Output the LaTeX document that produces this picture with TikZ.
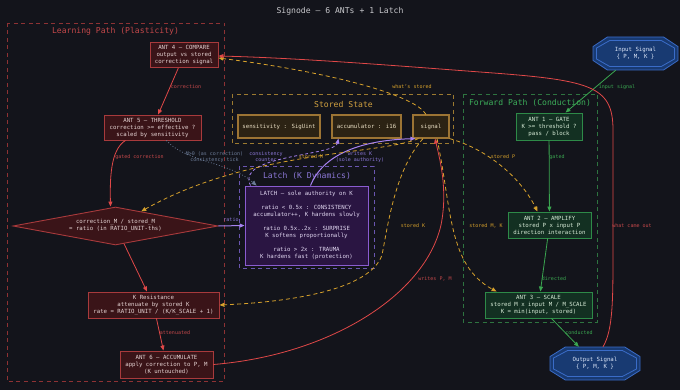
\documentclass[tikz,border=0pt]{standalone}
\usepackage{fontspec}
\setmainfont{DejaVu Sans Mono}
\usetikzlibrary{arrows.meta,shapes.geometric,calc}

\definecolor{bg}{HTML}{13141B}
\definecolor{ttl}{HTML}{C8C8CC}
% learning path (red)
\definecolor{redcl}{HTML}{8E3234}
\definecolor{redlb}{HTML}{C4484A}
\definecolor{redfl}{HTML}{3A1418}
\definecolor{redln}{HTML}{A83A3C}
\definecolor{redtx}{HTML}{E6D4D4}
\definecolor{reded}{HTML}{E04848}
% stored state (yellow)
\definecolor{yelcl}{HTML}{9C7A30}
\definecolor{yellb}{HTML}{D0A040}
\definecolor{yelfl}{HTML}{2C2314}
\definecolor{yelln}{HTML}{9C7434}
\definecolor{yeltx}{HTML}{EADFC4}
\definecolor{yeled}{HTML}{D8A22C}
% forward path (green)
\definecolor{grncl}{HTML}{2E7440}
\definecolor{grnlb}{HTML}{3CAE5A}
\definecolor{grnfl}{HTML}{133022}
\definecolor{grnln}{HTML}{2E8A48}
\definecolor{grntx}{HTML}{D8ECD8}
\definecolor{grned}{HTML}{3AA650}
% latch (purple)
\definecolor{purcl}{HTML}{6A56B0}
\definecolor{purlb}{HTML}{8C78D8}
\definecolor{purfl}{HTML}{2A1542}
\definecolor{purln}{HTML}{8A5CD0}
\definecolor{purtx}{HTML}{E2D8F2}
\definecolor{pured}{HTML}{A682F0}
% signals (blue)
\definecolor{blufl}{HTML}{183A72}
\definecolor{bluln}{HTML}{3A6CC8}
\definecolor{blutx}{HTML}{DCE6F8}
\definecolor{dotcl}{HTML}{6C7C98}

\tikzset{
  box/.style={draw, line width=0.9pt, align=center, inner sep=1pt,
    font=\fontsize{5.7}{7}\selectfont},
  redbox/.style={box, draw=redln, fill=redfl, text=redtx},
  yelbox/.style={box, draw=yelln, fill=yelfl, text=yeltx, line width=1.2pt},
  grnbox/.style={box, draw=grnln, fill=grnfl, text=grntx},
  purbox/.style={box, draw=purln, fill=purfl, text=purtx},
  sigbox/.style={align=center, inner sep=0pt, text=blutx,
    font=\fontsize{5.7}{7}\selectfont},
  cluster/.style={line width=0.8pt, dash pattern=on 4pt off 3.5pt},
  cltitle/.style={font=\fontsize{8.1}{10}\selectfont, inner sep=0pt},
  lbl/.style={font=\fontsize{5}{6}\selectfont, align=center, inner sep=0pt},
  tip/.style={-{Triangle[length=5pt,width=4pt]}},
  redge/.style={tip, draw=reded, line width=0.8pt},
  gedge/.style={tip, draw=grned, line width=0.8pt},
  pedge/.style={tip, draw=pured, line width=1pt},
  pdash/.style={pedge, line width=0.8pt, dash pattern=on 3pt off 2.5pt},
  ydash/.style={tip, draw=yeled, line width=0.8pt, dash pattern=on 4pt off 3pt},
  dotedge/.style={tip, draw=dotcl, line width=0.8pt, dash pattern=on 0.8pt off 2pt},
}

% octagon round a point: centre, half width, half height
\newcommand\octpath[3]{(#1) ++({-(#2)},{-0.42*(#3)}) -- ++(0,{0.84*(#3)})
  -- ++({0.34*(#2)},{0.58*(#3)}) -- ++({1.32*(#2)},0)
  -- ++({0.34*(#2)},{-0.58*(#3)}) -- ++(0,{-0.84*(#3)})
  -- ++({-0.34*(#2)},{-0.58*(#3)}) -- ++({-1.32*(#2)},0) -- cycle}

\begin{document}
\begin{tikzpicture}[x=1pt,y=-1pt]
\useasboundingbox (0,0) rectangle (680,390);
\fill[bg] (0,0) rectangle (680,390);

\node[cltitle, text=ttl] (title) at (340,11) {Signode — 6 ANTs + 1 Latch};

% Learning Path
\draw[cluster, draw=redcl] (7.5,23) rectangle (224,381.5);
\node[cltitle, text=redlb] (t-learn) at (115.5,31) {Learning Path (Plasticity)};

\node[redbox, minimum width=68pt, minimum height=25pt] (ant4) at (184,55)
  {ANT 4 — COMPARE\\output vs stored\\correction signal};
\node[redbox, minimum width=97pt, minimum height=25pt] (ant5) at (152.5,127.5)
  {ANT 5 — THRESHOLD\\correction >= effective ?\\scaled by sensitivity};
\node[redbox, diamond, aspect=5.4, inner sep=0pt, minimum width=205pt,
  minimum height=38pt] (ratio) at (115.5,226)
  {correction\_M / stored\_M\\= ratio (in RATIO\_UNIT-ths)};
\node[redbox, minimum width=131pt, minimum height=26pt] (kres) at (153.5,305)
  {K Resistance\\attenuate by stored K\\rate = RATIO\_UNIT / (K/K\_SCALE + 1)};
\node[redbox, minimum width=93pt, minimum height=27pt] (ant6) at (166.5,364.5)
  {ANT 6 — ACCUMULATE\\apply correction to P, M\\(K untouched)};

% Stored State
\draw[cluster, draw=yelcl] (232,94) rectangle (453,143.5);
\node[cltitle, text=yellb] (t-stored) at (343.5,104) {Stored State};
\foreach \nm/\x/\w/\tx in {sens/279/82/sensitivity : SigUint,
    accum/366.5/69/accumulator : i16, signal/431/36/signal}
  \node[yelbox, minimum width=\w pt, minimum height=23pt] (\nm) at (\x,126.5) {\tx};

% Forward Path
\draw[cluster, draw=grncl] (463,94) rectangle (597,322);
\node[cltitle, text=grnlb] (t-fwd) at (530,103) {Forward Path (Conduction)};

\node[grnbox, minimum width=66pt, minimum height=27pt] (ant1) at (549,126.5)
  {ANT 1 — GATE\\K >= threshold ?\\pass / block};
\node[grnbox, minimum width=83pt, minimum height=26pt] (ant2) at (549.5,225)
  {ANT 2 — AMPLIFY\\stored P x input P\\direction interaction};
\node[grnbox, minimum width=107pt, minimum height=26pt] (ant3) at (538.5,305)
  {ANT 3 — SCALE\\stored M x input M / M\_SCALE\\K = min(input, stored)};

% Latch
\draw[cluster, draw=purcl] (239.5,166.5) rectangle (374,268);
\node[cltitle, text=purlb] (t-latch) at (307,176) {Latch (K Dynamics)};
\node[purbox, minimum width=123pt, minimum height=79pt] (latch) at (306.5,225.5)
  {LATCH — sole authority on K\\[7pt]
   ratio < 0.5x : CONSISTENCY\\accumulator++, K hardens slowly\\[7pt]
   ratio 0.5x..2x : SURPRISE\\K softens proportionally\\[7pt]
   ratio > 2x : TRAUMA\\K hardens fast (protection)};

% Input / Output signals
\coordinate (insig-c) at (635.5,53.5);
\coordinate (outsig-c) at (595,363.5);
\foreach \c/\a/\b in {insig-c/42.5/16.5, outsig-c/45/16.5}{
  \filldraw[fill=blufl, draw=bluln, line width=0.8pt] \octpath{\c}{\a}{\b};
  \draw[draw=bluln, line width=0.8pt] \octpath{\c}{\a-3.5}{\b-3.5};
}
\node[sigbox, minimum width=85pt, minimum height=33pt] (insig) at (insig-c)
  {Input Signal\\\{ P, M, K \}};
\node[sigbox, minimum width=90pt, minimum height=33pt] (outsig) at (outsig-c)
  {Output Signal\\\{ P, M, K \}};

% forward edges
\draw[gedge] (insig) -- (ant1);
\draw[gedge] (ant1) -- (ant2);
\draw[gedge] (ant2) -- (ant3);
\draw[gedge] (ant3) -- (outsig);
\node[lbl, text=grned] (l-in) at (617,87) {input signal};
\node[lbl, text=grned] (l-gated) at (557,157) {gated};
\node[lbl, text=grned] (l-dir) at (554,279) {directed};
\node[lbl, text=grned] (l-cond) at (579,333) {conducted};

% learning edges
\draw[redge] (ant4) -- (ant5);
\draw[redge] ($(ant5.south)+(-27,0)$) .. controls (110,150) and (110,180)
  .. ($(ratio.north)+(-5,0)$);
\draw[redge] (ratio) -- (kres);
\draw[redge] (kres) -- (ant6);
\node[lbl, text=redlb] (l-corr) at (186,87) {correction};
\node[lbl, text=redlb] (l-gcorr) at (139.5,157) {gated correction};
\node[lbl, text=redlb] (l-att) at (175,333) {attenuated};

% into the latch
\draw[pedge] (ratio.east) -- (latch.west);
\draw[dotedge] ($(ant5.south east)+(-35,0)$) .. controls (185,162) and (230,162)
  .. ($(latch.north west)+(12,0)$);
\draw[pdash] ($(latch.north west)+(6,0)$) .. controls (234,155) and (335,156)
  .. ($(accum.south west)+(7,0)$);
\draw[pedge] ($(latch.north)+(4,0)$) .. controls (325,150) and (370,140)
  .. ($(signal.south west)+(3,0)$);
\node[lbl, text=purlb] (l-ratio) at (231,220) {ratio};
\node[lbl, text=dotcl] (l-tick) at (214.5,157) {M>0 (as correction)\\consistency tick};
\node[lbl, text=purlb] (l-cnt) at (266,157) {consistency\\counter};
\node[lbl, text=purlb] (l-wk) at (360,157) {writes K\\(sole authority)};

% reads of stored state
\draw[ydash] ($(signal.north)+(-5,0)$) .. controls (415,95) and (330,72)
  .. ($(ant4.east)+(0,3)$);
\draw[ydash] ($(signal.south west)+(6,0)$) .. controls (380,155) and (250,150)
  .. ($(ratio.north)!0.25!(ratio.east)$);
\draw[ydash] ($(signal.south)+(-8,0)$) .. controls (395,170) and (388,225)
  .. (382,255) .. controls (370,290) and (290,302) .. (kres.east);
\draw[ydash] (signal.south east) .. controls (490,150) and (522,180)
  .. ($(ant2.north)+(-12,0)$);
\draw[ydash] ($(signal.south)+(6,0)$) .. controls (452,210) and (448,265)
  .. ($(ant3.north west)+(12,0)$);
\node[lbl, text=yeled] (l-what) at (412,87) {what's stored};
\node[lbl, text=yeled] (l-sm) at (311,157) {stored M};
\node[lbl, text=yeled] (l-sk) at (413,226) {stored K};
\node[lbl, text=yeled] (l-sp) at (503,157) {stored P};
\node[lbl, text=yeled] (l-smk) at (486,226) {stored M, K};

% writes back and feedback
\draw[redge] (ant6.east) .. controls (330,355) and (425,295) .. (441,225)
  .. controls (448,190) and (440,160) .. ($(signal.south)+(4,0)$);
\draw[redge] ($(outsig.north)+(8,0)$) .. controls (613,330) and (613,300) .. (613,250)
  -- (613,130) .. controls (613,85) and (590,80) .. (480,72)
  .. controls (400,66) and (300,58) .. ($(ant4.east)+(0,1)$);
\node[lbl, text=redlb] (l-wpm) at (435,279) {writes P, M};
\node[lbl, text=redlb] (l-came) at (632,226) {what came out};

\end{tikzpicture}
\end{document}
